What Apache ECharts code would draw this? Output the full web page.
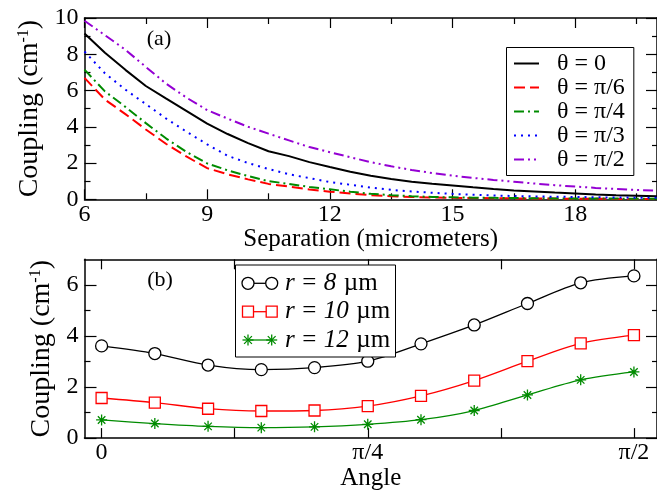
<!DOCTYPE html>
<html>
<head>
<meta charset="utf-8">
<script src="https://cdn.jsdelivr.net/npm/echarts@6/dist/echarts.min.js"></script>
<style>
  html, body { margin: 0; padding: 0; background: #fff; }
  #chart { width: 657px; height: 492px; }
</style>
</head>
<body>
<div id="chart"></div>
<script>
// ---- Panel (a): coupling versus separation, one curve per orientation ----
const separation = [6, 6.5, 7, 7.5, 8, 8.5, 9, 9.5, 10, 10.5, 11, 11.5, 12, 12.5, 13,
                    13.5, 14, 14.5, 15, 15.5, 16, 16.5, 17, 17.5, 18, 18.5, 19, 19.5, 20];
const thetaNames = ['θ = 0', 'θ = π/6', 'θ = π/4', 'θ = π/3', 'θ = π/2'];
const couplingTheta0 = [9.15, 8.08, 7.14, 6.25, 5.55, 4.86, 4.17, 3.6, 3.1, 2.65, 2.38, 2.05, 1.78, 1.52, 1.3,
                        1.12, 0.97, 0.86, 0.76, 0.66, 0.57, 0.49, 0.43, 0.37, 0.32, 0.27, 0.23, 0.2, 0.17];
const couplingThetaPi6 = [6.7, 5.5, 4.7, 3.85, 3.05, 2.35, 1.72, 1.38, 1.1, 0.85, 0.7, 0.54, 0.42, 0.32, 0.23,
                          0.17, 0.13, 0.1, 0.08, 0.07, 0.06, 0.05, 0.04, 0.04, 0.03, 0.03, 0.02, 0.02, 0.02];
const couplingThetaPi4 = [7.15, 5.95, 5.1, 4.2, 3.35, 2.6, 1.98, 1.6, 1.28, 1.0, 0.85, 0.68, 0.55, 0.42, 0.3,
                          0.23, 0.17, 0.13, 0.11, 0.09, 0.08, 0.07, 0.06, 0.05, 0.05, 0.04, 0.04, 0.03, 0.03];
const couplingThetaPi3 = [8.15, 6.95, 6.05, 5.25, 4.45, 3.72, 3.03, 2.4, 2.0, 1.67, 1.38, 1.17, 0.95, 0.8, 0.65,
                          0.52, 0.43, 0.36, 0.3, 0.25, 0.21, 0.18, 0.16, 0.14, 0.13, 0.11, 0.1, 0.09, 0.08];
const couplingThetaPi2 = [9.85, 9.05, 8.25, 7.3, 6.37, 5.6, 4.92, 4.45, 4.0, 3.62, 3.25, 2.88, 2.6, 2.32, 2.05,
                          1.82, 1.62, 1.45, 1.3, 1.18, 1.07, 0.97, 0.87, 0.78, 0.7, 0.63, 0.57, 0.52, 0.47];
const sepMajorTicks = [6, 9, 12, 15, 18];
const sepMinorTicks = [7.5, 10.5, 13.5, 16.5, 19.5];
const couplingMajorA = [0, 2, 4, 6, 8, 10];
const couplingMinorA = [1, 3, 5, 7, 9];

// ---- Panel (b): coupling versus angle for three radii ----
const angleDeg = [0, 9, 18, 27, 36, 45, 54, 63, 72, 81, 90];
const radiusLabels = ['8', '10', '12'];
const couplingR8 = [3.61, 3.31, 2.86, 2.68, 2.76, 3.01, 3.69, 4.43, 5.27, 6.08, 6.35];
const couplingR10 = [1.57, 1.39, 1.15, 1.06, 1.08, 1.25, 1.65, 2.25, 3.01, 3.71, 4.03];
const couplingR12 = [0.71, 0.57, 0.46, 0.41, 0.44, 0.54, 0.72, 1.08, 1.69, 2.28, 2.59];
const angleMajorTicks = [0, 45, 90];
const angleLabelText = { 0: '0', 45: 'π/4', 90: 'π/2' };
const angleMinorTicks = [22.5, 67.5];
const couplingMajorB = [0, 2, 4, 6];
const couplingMinorB = [1, 3, 5];

// ---- styling ----
const FONT = 'Liberation Serif';
const BLACK = '#000000', RED = '#ff0000', GREEN = '#008b00', BLUE = '#0000ff', VIOLET = '#9400d3';
const thetaStyles = [
  { color: BLACK, type: 'solid' },
  { color: RED, type: [11, 5] },
  { color: GREEN, type: [10, 4, 2, 4] },
  { color: BLUE, type: [2, 5] },
  { color: VIOLET, type: [10, 4, 2, 4, 2, 4] }
];
const thetaData = [couplingTheta0, couplingThetaPi6, couplingThetaPi4, couplingThetaPi3, couplingThetaPi2];
const radiusData = [couplingR8, couplingR10, couplingR12];
const asterisk = 'path://M5,0 L5,10 M0,5 L10,5 M1.6,1.6 L8.4,8.4 M1.6,8.4 L8.4,1.6';
const radiusStyles = [
  { color: BLACK, symbol: 'circle', size: 12 },
  { color: RED, symbol: 'rect', size: 11 },
  { color: GREEN, symbol: asterisk, size: 11 }
];

const GRID_LEFT = 84.5, GRID_WIDTH = 576;
const tickText = { fontFamily: FONT, fontSize: 24, color: '#000' };

// one value axis that draws ticks, and optionally its line, labels and title
function axis(kind, grid, min, max, position, opts) {
  const a = {
    type: 'value', gridIndex: grid, min: min, max: max, position: position,
    splitLine: { show: false },
    axisLine: { show: !!opts.line, onZero: false, lineStyle: { color: '#000', width: 1.5 } },
    axisTick: { show: true, inside: true, length: opts.tickLen, customValues: opts.ticks.slice(),
                lineStyle: { color: '#000', width: 1.2 } },
    axisLabel: { show: false }
  };
  if (opts.labels) {
    const fmt = opts.fmt || (v => String(v));
    a.axisLabel = Object.assign({
      show: true, customValues: opts.labels.slice(), margin: opts.margin,
      formatter: v => '{t|' + fmt(v) + '}',
      rich: { t: Object.assign({}, tickText) }
    }, tickText);
  }
  if (opts.name) {
    a.name = opts.name; a.nameLocation = 'middle'; a.nameGap = opts.nameGap;
    if (kind === 'y') a.nameRotate = 90;
    a.nameTextStyle = opts.nameStyle;
  }
  return a;
}

const xNameStyle = { fontFamily: FONT, fontSize: 25, color: '#000' };
const yNameStyle = { fontFamily: FONT, fontSize: 28, color: '#000',
                     rich: { s: { fontFamily: FONT, fontSize: 16, color: '#000', verticalAlign: 'top' } } };
const yTitle = 'Coupling (cm{s|-1})';

const xAxes = [
  axis('x', 0, 6, 20, 'bottom', { line: true, ticks: sepMajorTicks, tickLen: 10, labels: sepMajorTicks, margin: 3,
                                  name: 'Separation (micrometers)', nameGap: 25, nameStyle: xNameStyle }),
  axis('x', 0, 6, 20, 'bottom', { ticks: sepMinorTicks, tickLen: 6 }),
  axis('x', 0, 6, 20, 'top', { line: true, ticks: sepMajorTicks, tickLen: 10 }),
  axis('x', 0, 6, 20, 'top', { ticks: sepMinorTicks, tickLen: 6 }),
  axis('x', 1, -2.89, 93.9, 'bottom', { line: true, ticks: angleMajorTicks, tickLen: 10, labels: angleMajorTicks, margin: 3,
                                        fmt: v => angleLabelText[v] ?? '', name: 'Angle', nameGap: 24, nameStyle: xNameStyle }),
  axis('x', 1, -2.89, 93.9, 'bottom', { ticks: angleMinorTicks, tickLen: 10 }),
  axis('x', 1, -2.89, 93.9, 'top', { line: true, ticks: angleMajorTicks, tickLen: 10 }),
  axis('x', 1, -2.89, 93.9, 'top', { ticks: angleMinorTicks, tickLen: 10 })
];
const yAxes = [
  axis('y', 0, 0, 10, 'left', { line: true, ticks: couplingMajorA, tickLen: 12, labels: couplingMajorA, margin: 6,
                                name: yTitle, nameGap: 38, nameStyle: yNameStyle }),
  axis('y', 0, 0, 10, 'left', { ticks: couplingMinorA, tickLen: 6 }),
  axis('y', 0, 0, 10, 'right', { line: true, ticks: couplingMajorA, tickLen: 11 }),
  axis('y', 0, 0, 10, 'right', { ticks: couplingMinorA, tickLen: 5 }),
  axis('y', 1, 0, 7, 'left', { line: true, ticks: couplingMajorB, tickLen: 12, labels: couplingMajorB, margin: 6,
                               name: yTitle, nameGap: 26, nameStyle: yNameStyle }),
  axis('y', 1, 0, 7, 'left', { ticks: couplingMinorB, tickLen: 6 }),
  axis('y', 1, 0, 7, 'right', { line: true, ticks: couplingMajorB, tickLen: 11 }),
  axis('y', 1, 0, 7, 'right', { ticks: couplingMinorB, tickLen: 5 })
];

const series = [];
thetaNames.forEach((name, i) => {
  series.push({
    name: name, type: 'line', xAxisIndex: 0, yAxisIndex: 0,
    data: separation.map((x, k) => [x, thetaData[i][k]]),
    symbol: 'none', smooth: false, animation: false, z: 2,
    lineStyle: { color: thetaStyles[i].color, type: thetaStyles[i].type, width: 2 },
    itemStyle: { color: thetaStyles[i].color }
  });
});
radiusLabels.forEach((r, i) => {
  const st = radiusStyles[i];
  series.push({
    name: 'r = ' + r + ' µm', type: 'line', xAxisIndex: 4, yAxisIndex: 4,
    data: angleDeg.map((a, k) => [a, radiusData[i][k]]),
    smooth: 0.3, animation: false, z: 2,
    symbol: st.symbol, symbolSize: st.size, showAllSymbol: true,
    lineStyle: { color: st.color, width: 1.3 },
    itemStyle: { color: i === 2 ? 'none' : '#ffffff', borderColor: st.color, borderWidth: 1.3, opacity: 1 }
  });
});

// legend box for panel (b): marker — line — marker, then label
const legendB = [{ type: 'rect', shape: { x: 235.5, y: 265, width: 160, height: 92 },
                   style: { fill: '#fff', stroke: '#000', lineWidth: 1 }, z: 10 }];
const rowY = [283.3, 311.7, 340];
function markerAt(i, cx, cy) {
  const st = radiusStyles[i];
  if (i === 0) return { type: 'circle', shape: { cx: cx, cy: cy, r: 6 }, style: { fill: '#fff', stroke: st.color, lineWidth: 1.3 }, z: 12 };
  if (i === 1) return { type: 'rect', shape: { x: cx - 5.5, y: cy - 5.5, width: 11, height: 11 }, style: { fill: '#fff', stroke: st.color, lineWidth: 1.3 }, z: 12 };
  const arms = [[0, -5.5, 0, 5.5], [-5.5, 0, 5.5, 0], [-3.9, -3.9, 3.9, 3.9], [-3.9, 3.9, 3.9, -3.9]];
  return { type: 'group', z: 12, children: arms.map(a => ({ type: 'line',
    shape: { x1: cx + a[0], y1: cy + a[1], x2: cx + a[2], y2: cy + a[3] },
    style: { stroke: st.color, lineWidth: 1.3 }, z: 12 })) };
}
const legendRich = {
  i: { fontFamily: FONT, fontSize: 25, fontStyle: 'italic', fill: '#000' },
  n: { fontFamily: FONT, fontSize: 25, fill: '#000' },
  g: { fontFamily: FONT, fontSize: 25, fill: '#000', width: 7.5 }
};
radiusLabels.forEach((r, i) => {
  const y = rowY[i];
  legendB.push({ type: 'line', shape: { x1: 248, y1: y, x2: 271.7, y2: y },
                 style: { stroke: radiusStyles[i].color, lineWidth: 1.3 }, z: 11 });
  legendB.push(markerAt(i, 248, y));
  legendB.push(markerAt(i, 271.7, y));
  legendB.push({ type: 'text', x: 285, y: y, z: 12,
    style: { text: '{i|r}{g| }{n|=}{g| }{i|' + r + '}{g| }{n|µm}', fontFamily: FONT, fontSize: 25, fill: '#000',
             verticalAlign: 'middle', align: 'left', rich: legendRich } });
});

const chart = echarts.init(document.getElementById('chart'), null, { renderer: 'canvas' });
chart.setOption({
  backgroundColor: '#ffffff',
  animation: false,
  textStyle: { fontFamily: FONT, fontSize: 24, color: '#000' },
  grid: [
    { left: GRID_LEFT, top: 18, width: GRID_WIDTH, height: 181.3 },
    { left: GRID_LEFT, top: 259.3, width: GRID_WIDTH, height: 181.4 }
  ],
  xAxis: xAxes,
  yAxis: yAxes,
  legend: {
    data: thetaNames, orient: 'vertical', left: 506.5, top: 47.5,
    padding: [4, 9, 4, 6.5], itemWidth: 25, itemHeight: 12, itemGap: 0,
    borderColor: '#000', borderWidth: 1, backgroundColor: '#fff',
    itemStyle: { opacity: 0 },
    textStyle: { fontFamily: FONT, fontSize: 24, color: '#000', lineHeight: 23.3, padding: [0, 0, 0, 13] },
    selectedMode: false
  },
  graphic: [
    { type: 'text', x: 159, y: 39, style: { text: '(a)', fontFamily: FONT, fontSize: 22, fill: '#000', align: 'center', verticalAlign: 'middle' } },
    { type: 'text', x: 160, y: 280, style: { text: '(b)', fontFamily: FONT, fontSize: 22, fill: '#000', align: 'center', verticalAlign: 'middle' } }
  ].concat(legendB),
  series: series
});
</script>
</body>
</html>
